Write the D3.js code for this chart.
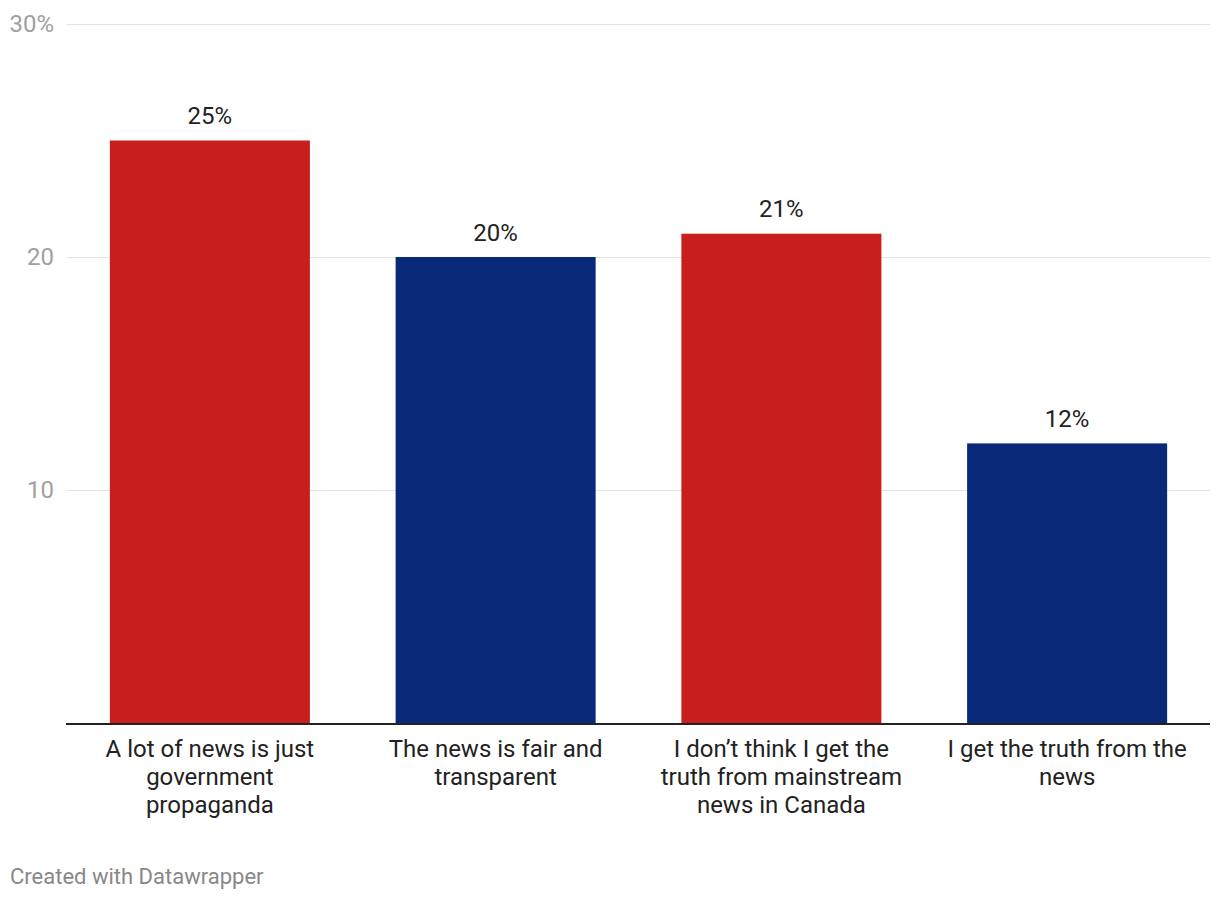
<!DOCTYPE html>
<html><head><meta charset="utf-8">
<script src="https://cdn.jsdelivr.net/npm/d3@7"></script>
<style>
body{margin:0;background:#fff;font-family:Roboto,"Noto Sans",sans-serif;}
</style></head>
<body><svg id="c" width="1220" height="900"></svg>
<script>
const categories = ["A lot of news is just government propaganda","The news is fair and transparent","I don\u2019t think I get the truth from mainstream news in Canada","I get the truth from the news"];
const values = [25, 20, 21, 12];
const colors = ["#c81e1e","#082a78","#c81e1e","#082a78"];
const yTicks = [10, 20, 30];
const footer = "Created with Datawrapper";

const svg = d3.select("#c");
const mLeft = 67, mRight = 1210, mTop = 24, mBottom = 723;
const x = d3.scaleBand().domain(categories).range([mLeft, mRight]).paddingInner(0.3).paddingOuter(0.15);
const y = d3.scaleLinear().domain([0, 30]).range([mBottom, mTop]);

const g = svg.append("g");
g.selectAll("line.grid").data(yTicks).join("line")
  .attr("x1", mLeft).attr("x2", mRight)
  .attr("y1", d => y(d) + 0.5).attr("y2", d => y(d) + 0.5)
  .attr("stroke", "#e3e3e3").attr("stroke-width", 1);
g.selectAll("text.tick").data(yTicks).join("text")
  .attr("x", 54).attr("y", d => y(d)).attr("dy", "0.35em")
  .attr("text-anchor", "end").attr("fill", "#a0a0a0").attr("font-size", 24)
  .text(d => d === 30 ? d + "%" : d);

svg.selectAll("rect.bar").data(values).join("rect")
  .attr("x", (d, i) => x(categories[i])).attr("width", x.bandwidth())
  .attr("y", d => y(d)).attr("height", d => y(0) - y(d))
  .attr("fill", (d, i) => colors[i]);

svg.append("line").attr("x1", mLeft - 1).attr("x2", mRight).attr("y1", y(0) + 1).attr("y2", y(0) + 1)
  .attr("stroke", "#222").attr("stroke-width", 2);

svg.selectAll("text.val").data(values).join("text")
  .attr("x", (d, i) => x(categories[i]) + x.bandwidth() / 2)
  .attr("y", d => y(d) - 16.5)
  .attr("text-anchor", "middle").attr("fill", "#222").attr("font-size", 24)
  .text(d => d + "%");

const maxW = 245;
categories.forEach((c, i) => {
  const cx = x(c) + x.bandwidth() / 2;
  const t = svg.append("text").attr("text-anchor", "middle").attr("fill", "#222").attr("font-size", 24)
    .attr("x", cx).attr("y", 756.5);
  const words = c.split(" ");
  let line = [], lines = [];
  const probe = svg.append("text").attr("font-size", 24);
  words.forEach(w => {
    const test = line.concat([w]).join(" ");
    probe.text(test);
    if (probe.node().getComputedTextLength() > maxW && line.length) { lines.push(line.join(" ")); line = [w]; }
    else line.push(w);
  });
  lines.push(line.join(" "));
  probe.remove();
  lines.forEach((l, k) => t.append("tspan").attr("x", cx).attr("dy", k === 0 ? 0 : 28).text(l));
});

svg.append("text").attr("x", 10).attr("y", 884).attr("fill", "#888").attr("font-size", 22).text(footer);
</script></body></html>
